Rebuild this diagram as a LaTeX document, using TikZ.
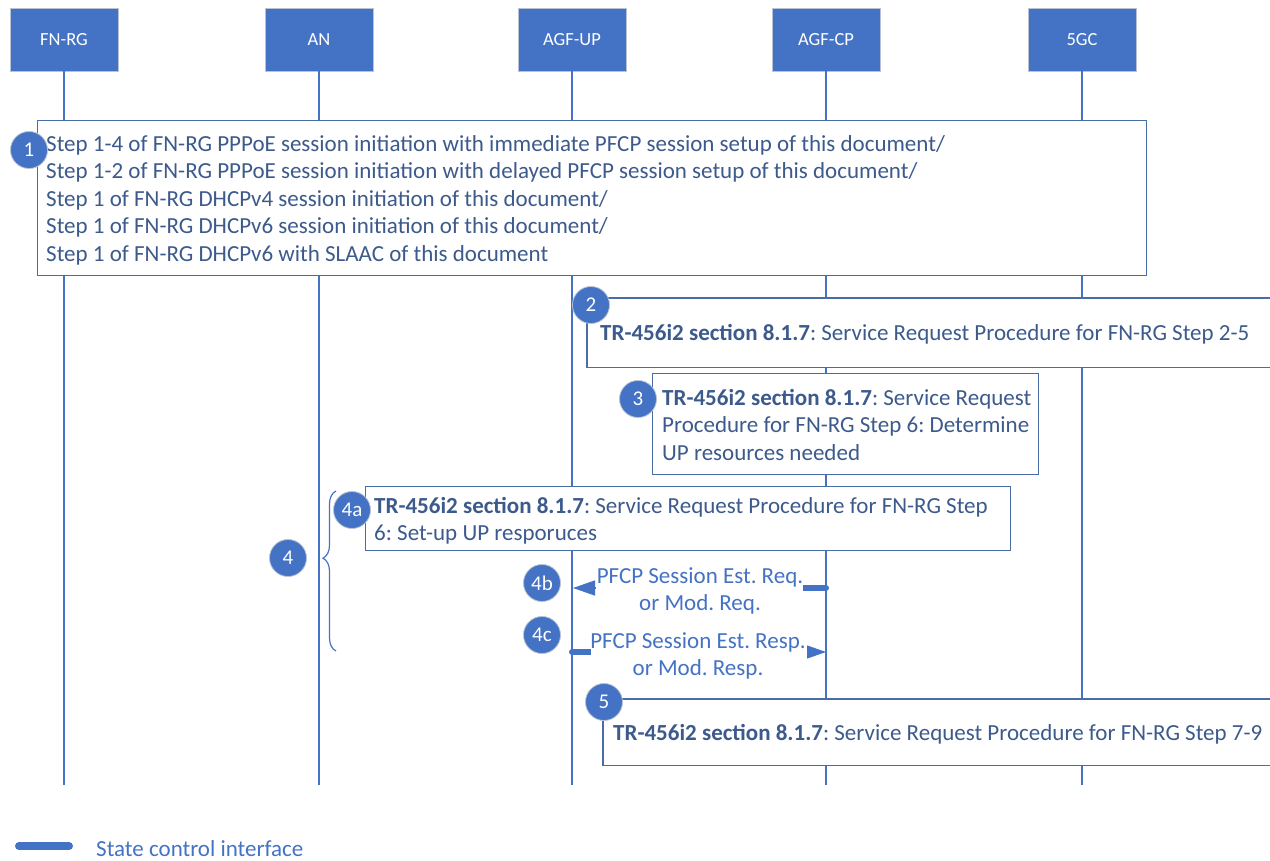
\documentclass[tikz,border=0pt]{standalone}
\usepackage{fontspec}
\setmainfont{Carlito}
\usetikzlibrary{arrows.meta,decorations.pathreplacing}
\definecolor{ofblue}{RGB}{68,114,196}
\definecolor{edge}{RGB}{72,110,165}
\definecolor{steptext}{RGB}{60,90,140}
\definecolor{rim}{RGB}{185,195,212}
\frenchspacing
\begin{document}
\begin{tikzpicture}[x=1pt,y=-1pt,
  entity/.style={rectangle, fill=ofblue, draw=rim, line width=0.8,
    minimum width=108pt, minimum height=63pt, inner sep=0pt, text=white,
    font=\fontsize{18.5}{22}\selectfont},
  life/.style={draw=ofblue, line width=1.5pt},
  stepbox/.style={rectangle, fill=white, draw=edge, line width=1.4pt,
    anchor=north west, inner sep=0pt},
  openbox/.style={rectangle, fill=white, anchor=north west, inner sep=0pt},
  openedge/.style={draw=edge, line width=1.4pt},
  steplabel/.style={align=flush left, anchor=west, inner sep=0pt, yshift=-2pt,
    text=steptext, font=\fontsize{23}{27.4}\selectfont},
  badge/.style={circle, fill=ofblue, draw=rim, line width=0.8pt,
    minimum size=37pt, inner sep=0pt, text=white,
    font=\fontsize{21}{24}\selectfont},
  msglabel/.style={align=flush center, fill=white, inner sep=1pt, text=ofblue,
    font=\fontsize{23}{27}\selectfont},
  msg/.style={draw=ofblue, line width=1.5pt,
    -{Triangle[length=22pt,width=15pt]}},
  ctrl/.style={draw=ofblue, line width=6pt},
  bracket/.style={draw=ofblue, line width=1.2pt, decorate,
    decoration={brace, amplitude=13pt, aspect=0.58}},
]
\useasboundingbox (0,0) rectangle (1270,861);

% participants
\node[entity] (fnrg)  at (64,39.5)   {FN-RG};
\node[entity] (an)    at (319,39.5)  {AN};
\node[entity] (agfup) at (572,39.5)  {AGF-UP};
\node[entity] (agfcp) at (826,39.5)  {AGF-CP};
\node[entity] (fgc)   at (1082,39.5) {5GC};

% lifelines
\foreach \p in {fnrg,an,agfup,agfcp,fgc}
  \draw[life] (\p.south) -- ++(0,714);

% step 1
\node[stepbox, minimum width=1109pt, minimum height=155pt] (s1) at (37,120) {};
\node[steplabel, xshift=9pt] (t1) at (s1.west)
  {Step 1-4 of FN-RG PPPoE session initiation with immediate PFCP session setup of this document/\\
   Step 1-2 of FN-RG PPPoE session initiation with delayed PFCP session setup of this document/\\
   Step 1 of FN-RG DHCPv4 session initiation of this document/\\
   Step 1 of FN-RG DHCPv6 session initiation of this document/\\
   Step 1 of FN-RG DHCPv6 with SLAAC of this document};
\node[badge] (b1) at (29,150) {1};

% step 2 (open to the right)
\node[openbox, minimum width=683pt, minimum height=69pt] (s2) at (587,298) {};
\draw[openedge] (s2.north east) -- (s2.north west) -- (s2.south west) -- (s2.south east);
\node[steplabel, xshift=13pt] (t2) at (s2.west)
  {\textbf{TR-456i2 section 8.1.7}: Service Request Procedure for FN-RG Step 2-5};
\node[badge] (b2) at (591,305) {2};

% step 3
\node[stepbox, minimum width=386pt, minimum height=101pt] (s3) at (652,373) {};
\node[steplabel, xshift=10pt, yshift=1.5pt] (t3) at (s3.west)
  {\textbf{TR-456i2 section 8.1.7}: Service Request\\
   Procedure for FN-RG Step 6: Determine\\
   UP resources needed};
\node[badge] (b3) at (638,399) {3};

% step 4a
\node[stepbox, minimum width=645pt, minimum height=64pt] (s4a) at (365,486) {};
\node[steplabel, xshift=9pt] (t4a) at (s4a.west)
  {\textbf{TR-456i2 section 8.1.7}: Service Request Procedure for FN-RG Step\\
   6: Set-up UP resporuces};
\node[badge] (b4a) at (352,510) {4a};

% step 4 grouping
\coordinate (brlow) at (336,651);
\coordinate (brhigh) at (336,491);
\draw[bracket] (brlow) -- (brhigh);
\node[badge] (b4) at (288,558) {4};

% step 4b: AGF-CP -> AGF-UP
\coordinate (cp4b) at (826,588);
\coordinate (up4b) at (573,588);
\draw[msg] (cp4b) -- (up4b);
\node[msglabel] (l4b) at (700,590.5) {PFCP Session Est. Req.\\or Mod. Req.};
\draw[ctrl] (cp4b) -- ++(-23,0);
\fill[ofblue] (cp4b) circle (3pt);
\node[badge] (b4b) at (542,583) {4b};

% step 4c: AGF-UP -> AGF-CP
\coordinate (up4c) at (572,652);
\coordinate (cp4c) at (826,652);
\draw[msg] (up4c) -- (cp4c);
\node[msglabel] (l4c) at (698,655.5) {PFCP Session Est. Resp.\\or Mod. Resp.};
\draw[ctrl] (up4c) -- ++(19,0);
\fill[ofblue] (up4c) circle (3pt);
\node[badge] (b4c) at (542,635) {4c};

% step 5 (open to the right)
\node[openbox, minimum width=667pt, minimum height=66pt] (s5) at (603,699) {};
\draw[openedge] (s5.north east) -- (s5.north west) -- (s5.south west) -- (s5.south east);
\node[steplabel, xshift=10pt] (t5) at (s5.west)
  {\textbf{TR-456i2 section 8.1.7}: Service Request Procedure for FN-RG Step 7-9};
\node[badge] (b5) at (604,702) {5};

% legend
\coordinate (legA) at (19,846);
\coordinate (legB) at (69,846);
\draw[draw=ofblue, line width=8pt, line cap=round] (legA) -- (legB);
\node[anchor=west, inner sep=0pt, text=ofblue, font=\fontsize{23}{27}\selectfont]
  (legtext) at (96,849) {State control interface};
\end{tikzpicture}
\end{document}
